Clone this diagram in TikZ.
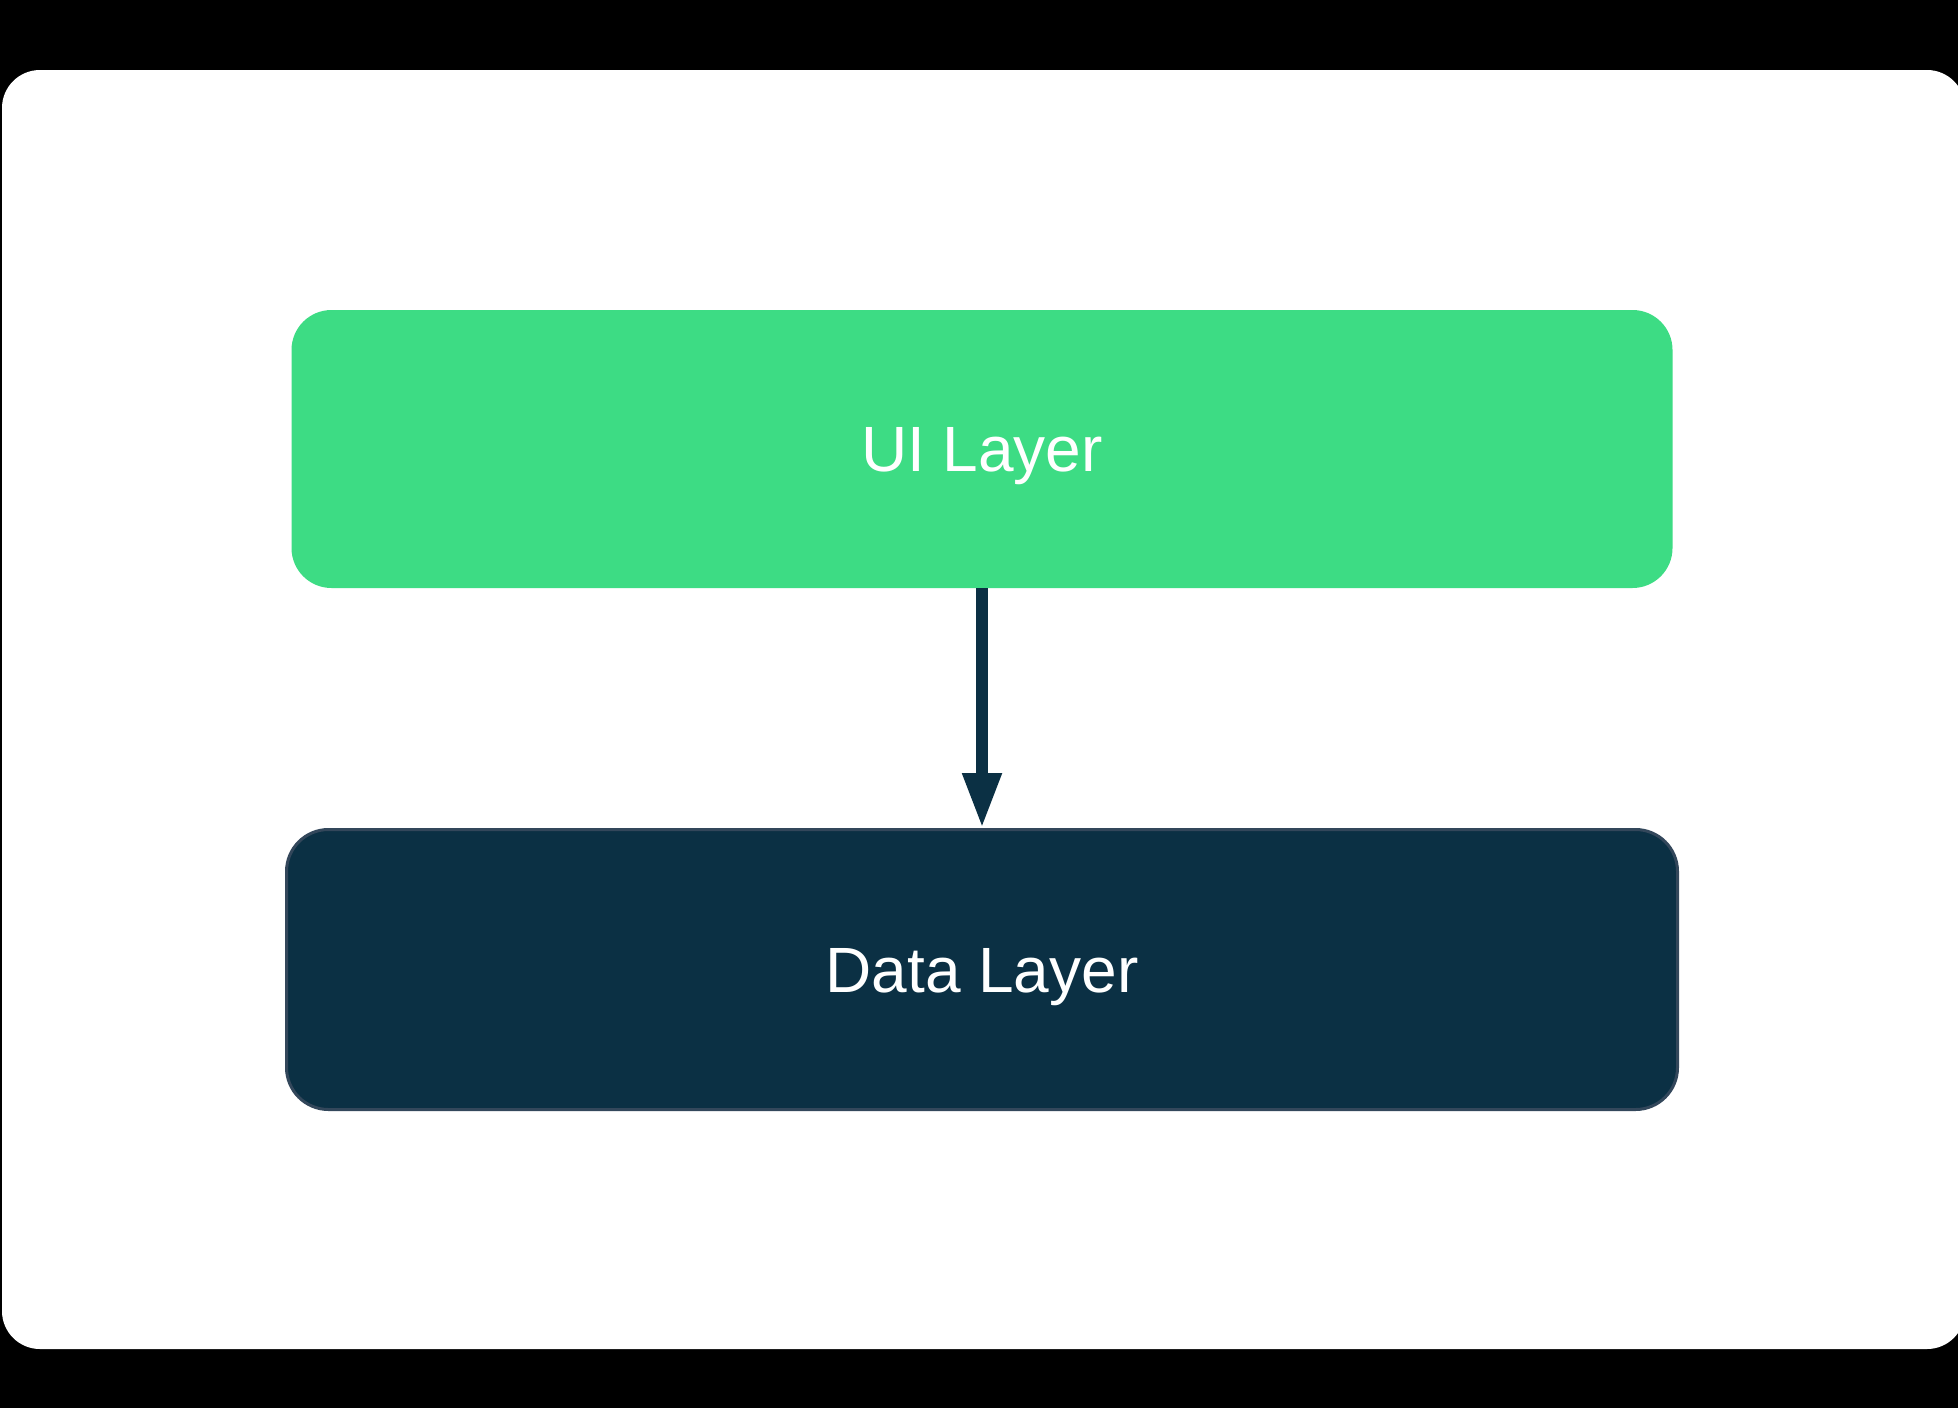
\documentclass[tikz,border=0pt]{standalone}
\usepackage{fontspec}
\setmainfont{Liberation Sans}
\usetikzlibrary{arrows.meta}
\definecolor{uigreen}{HTML}{3DDC84}
\definecolor{datablue}{HTML}{0B3044}
\definecolor{dataedge}{HTML}{33475B}
\tikzset{
  layer/.style={rounded corners=20pt, minimum width=690.5pt, minimum height=139pt,
    text=white, font=\fontsize{32}{38}\selectfont, text height=22.9pt, text depth=0pt},
  uplink/.style={datablue, line width=6pt, -{Triangle[length=27.5pt,width=18.3pt]}}
}
\begin{document}
\begin{tikzpicture}[x=0.5pt,y=-0.5pt]
\useasboundingbox (0,0) rectangle (1958,1408);
\clip (0,0) rectangle (1958,1408);
% frame
\fill[black] (0,0) rectangle (1958,1408);
\fill[white, rounded corners=19pt] (2,70) rectangle (1965,1349);
% layers
\node[layer, fill=uigreen] (ui) at (982,449) {UI Layer};
\node[layer, fill=datablue, draw=dataedge, line width=1.5pt,
  minimum width=695.5pt, minimum height=140pt, rounded corners=21pt] (data) at (982,969.5) {Data Layer};
\draw[uplink] (ui.south) -- (data.north);
\end{tikzpicture}
\end{document}
